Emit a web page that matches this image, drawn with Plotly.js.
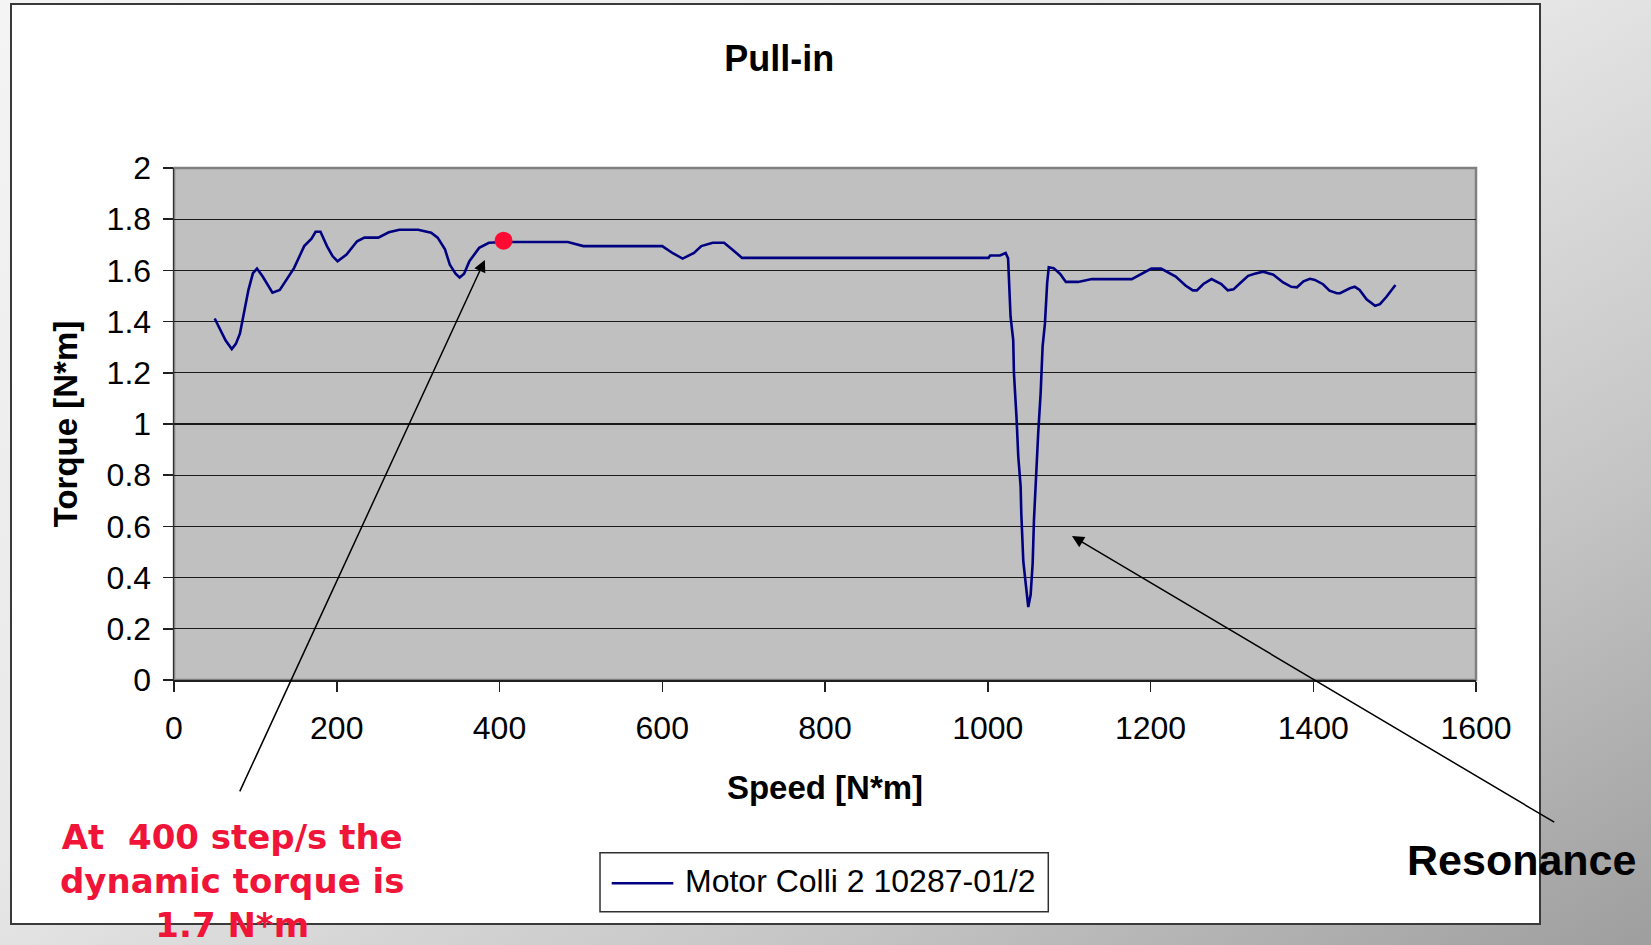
<!DOCTYPE html>
<html>
<head>
<meta charset="utf-8">
<script src="https://cdn.plot.ly/plotly-3.0.1.min.js"></script>
<style>
  html, body { margin: 0; padding: 0; width: 1651px; height: 945px; overflow: hidden; }
  body { background: linear-gradient(150deg, #f4f4f4 0%, #e8e8e8 45%, #c4c4c4 75%, #9e9e9e 100%); position: relative; }
  #panel { position: absolute; left: 10px; top: 3px; width: 1527px; height: 918px; background: #ffffff; border: 2px solid #3a3a3a; }
  #chart { position: absolute; left: 0; top: 0; width: 1651px; height: 945px; }
</style>
</head>
<body>
<div id="panel"></div>
<div id="chart"></div>
<script>
// Speed (x) and torque (y)
const speed = [50, 57, 63.5, 71, 76, 81, 85, 91.5, 97, 102, 109, 121, 130, 147.5, 160, 169, 174, 180, 188, 195,
  201, 212, 225, 234, 251, 264, 277, 300, 316, 324, 333, 339, 346, 351, 356.5, 363, 375, 387, 406, 484,
  503, 600, 613, 625, 639, 648, 662, 676, 686, 698, 1001, 1003, 1015, 1022, 1025, 1026.4, 1028, 1031.3, 1032.2, 1035.5,
  1037.5, 1040.4, 1041.2, 1043.7, 1047, 1049.8, 1052.7, 1055.2, 1056.8, 1059.2, 1062, 1065, 1067.4, 1070.3, 1071.5, 1073, 1075,
  1081, 1089, 1096, 1111, 1128, 1177, 1201, 1213, 1231, 1243, 1252, 1257, 1265, 1275, 1287, 1295, 1302, 1310, 1320,
  1328, 1338.5, 1351, 1363, 1373, 1380, 1388, 1396, 1402, 1412, 1420, 1429, 1433, 1445, 1451, 1457, 1465.5, 1476, 1482, 1490, 1501];
const torque = [1.412, 1.366, 1.326, 1.293, 1.313, 1.353, 1.418, 1.524, 1.589, 1.607, 1.576, 1.513, 1.524, 1.609, 1.695, 1.724, 1.751, 1.751, 1.695, 1.655,
  1.636, 1.662, 1.714, 1.728, 1.728, 1.749, 1.759, 1.759, 1.747, 1.728, 1.682, 1.622, 1.587, 1.572, 1.587, 1.636, 1.688, 1.708, 1.711, 1.711,
  1.695, 1.695, 1.667, 1.646, 1.668, 1.695, 1.708, 1.708, 1.682, 1.649, 1.649, 1.658, 1.658, 1.668, 1.647, 1.537, 1.42, 1.328, 1.198, 1.016,
  0.873, 0.756, 0.652, 0.463, 0.352, 0.285, 0.333, 0.456, 0.626, 0.795, 0.964, 1.12, 1.302, 1.394, 1.485, 1.55, 1.612,
  1.609, 1.586, 1.555, 1.555, 1.566, 1.566, 1.607, 1.607, 1.576, 1.541, 1.522, 1.522, 1.547, 1.566, 1.547, 1.522, 1.526, 1.55, 1.579,
  1.587, 1.595, 1.583, 1.553, 1.536, 1.534, 1.557, 1.567, 1.563, 1.546, 1.521, 1.511, 1.511, 1.53, 1.536, 1.524, 1.487, 1.462, 1.468, 1.497, 1.543];
const seriesName = 'Motor Colli 2 10287-01/2';
const markSpeed = [405];
const markTorque = [1.716];
const xTicks = [0, 200, 400, 600, 800, 1000, 1200, 1400, 1600];
const yTicks = [0, 0.2, 0.4, 0.6, 0.8, 1, 1.2, 1.4, 1.6, 1.8, 2];

const FONT = 'Liberation Sans, Arial, sans-serif';
const LINE_COLOR = '#000080';

const traces = [
  { x: speed, y: torque, type: 'scatter', mode: 'lines', name: seriesName,
    line: { color: LINE_COLOR, width: 2.6 }, showlegend: false },
  { x: markSpeed, y: markTorque, type: 'scatter', mode: 'markers', showlegend: false,
    marker: { color: '#ff0a32', size: 18 } }
];

const layout = {
  width: 1651, height: 945,
  margin: { l: 174, r: 175, t: 168, b: 265, autoexpand: false },
  paper_bgcolor: 'rgba(0,0,0,0)',
  plot_bgcolor: '#c0c0c0',
  font: { family: FONT, color: '#000000' },
  title: { text: '<b>Pull-in</b>', font: { family: FONT, size: 36, color: '#000' },
           x: 0.472, xref: 'container', xanchor: 'center', y: 0.938, yref: 'container', yanchor: 'middle' },
  xaxis: {
    range: [0, 1600], tickvals: xTicks, ticktext: xTicks.map(String),
    showgrid: false, zeroline: false,
    showline: true, linecolor: '#202020', linewidth: 1.5,
    ticks: 'outside', ticklen: 10, tickcolor: '#202020', tickwidth: 1.5,
    tickfont: { family: FONT, size: 32, color: '#000' }, ticklabelstandoff: 9,
    title: { text: '<b>Speed [N*m]</b>', font: { family: FONT, size: 33, color: '#000' }, standoff: 31 },
    automargin: false, fixedrange: true
  },
  yaxis: {
    range: [0, 2], tickvals: yTicks, ticktext: yTicks.map(String),
    showgrid: true, gridcolor: '#1a1a1a', gridwidth: 1.2, zeroline: false,
    showline: true, linecolor: '#303030', linewidth: 1.5,
    ticks: 'outside', ticklen: 10, tickcolor: '#202020', tickwidth: 1.5,
    tickfont: { family: FONT, size: 32, color: '#000' }, ticklabelstandoff: 5,
    title: { text: '<b>Torque [N*m]</b>', font: { family: FONT, size: 33, color: '#000' }, standoff: 19 },
    automargin: false, fixedrange: true
  },
  showlegend: false,
  shapes: [
    { type: 'rect', xref: 'paper', yref: 'paper', x0: 0, x1: 1, y0: 0, y1: 1,
      line: { color: '#808080', width: 2.5 }, fillcolor: 'rgba(0,0,0,0)', layer: 'below' },
    // legend box and its line sample
    { type: 'rect', xref: 'paper', yref: 'paper', x0: 0.3272, x1: 0.6715, y0: -0.4525, y1: -0.3373,
      line: { color: '#303030', width: 1.5 }, fillcolor: '#ffffff', layer: 'above' },
    { type: 'line', xref: 'paper', yref: 'paper', x0: 0.3362, x1: 0.3835, y0: -0.3971, y1: -0.3971,
      line: { color: LINE_COLOR, width: 2.6 }, layer: 'above' }
  ],
  annotations: [
    { xref: 'paper', yref: 'paper', x: 0.3907, y: -0.3926, xanchor: 'left', yanchor: 'middle',
      text: seriesName, showarrow: false, font: { family: FONT, size: 32, color: '#000' } },
    { xref: 'x', yref: 'y', x: 382, y: 1.641, axref: 'x', ayref: 'y', ax: 80, ay: -0.441,
      text: '', showarrow: true, arrowhead: 2, arrowsize: 1.6, arrowwidth: 1.5, arrowcolor: '#000' },
    { xref: 'x', yref: 'y', x: 1103.5, y: 0.5625, axref: 'x', ayref: 'y', ax: 1698, ay: -0.559,
      text: '', showarrow: true, arrowhead: 2, arrowsize: 1.6, arrowwidth: 1.5, arrowcolor: '#000' },
    { xref: 'paper', yref: 'paper', x: 0.0443, y: -0.392, xanchor: 'center', yanchor: 'middle',
      text: '<b>At\u00a0 400 step/s the<br>dynamic torque is<br>1.7 N*m</b>', showarrow: false, align: 'center',
      font: { family: 'DejaVu Sans, sans-serif', size: 34, color: '#f01438' } },
    { xref: 'paper', yref: 'paper', x: 1.0346, y: -0.3516, xanchor: 'center', yanchor: 'middle',
      text: '<b>Resonance</b>', showarrow: false,
      font: { family: FONT, size: 43, color: '#000' } }
  ]
};

Plotly.newPlot('chart', traces, layout, { displayModeBar: false, staticPlot: true });
</script>
</body>
</html>
